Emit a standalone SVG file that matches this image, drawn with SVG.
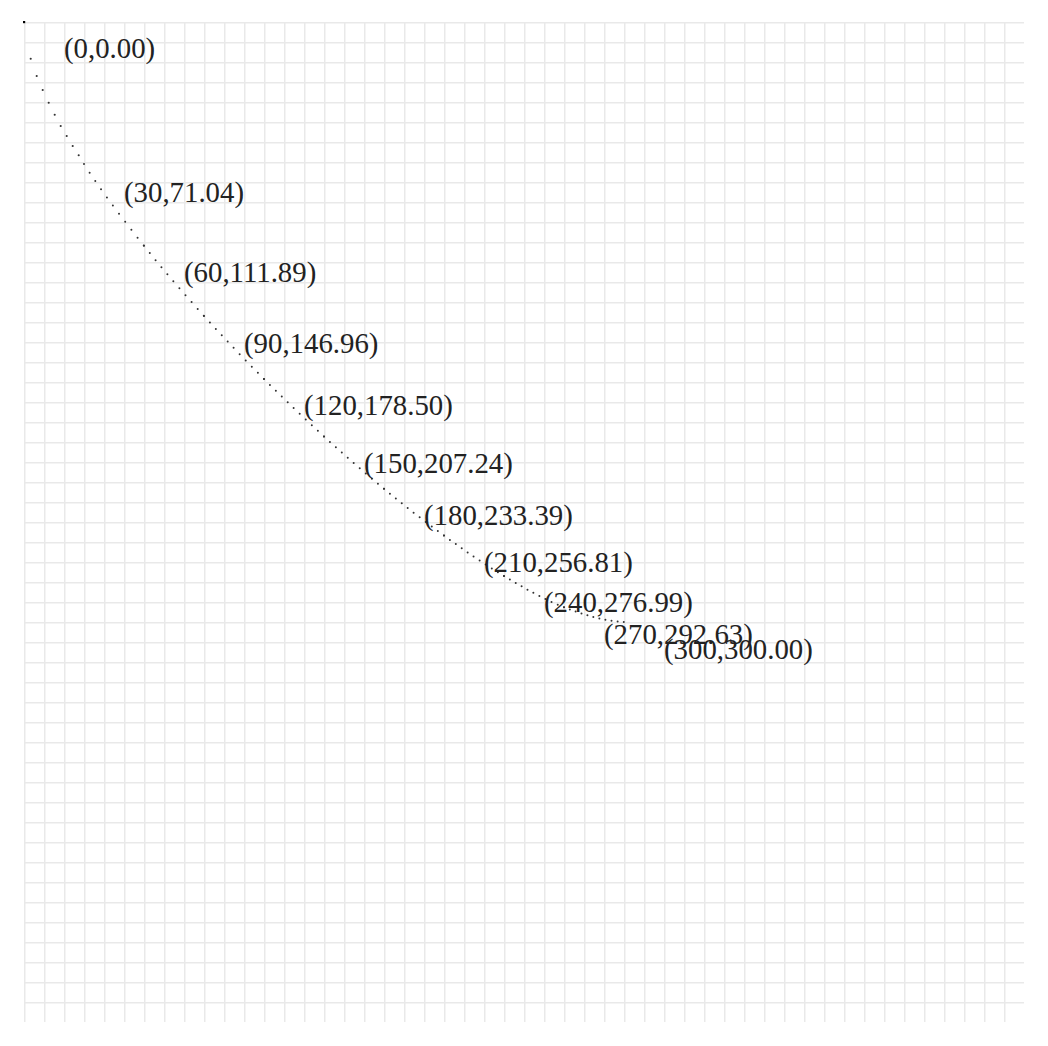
<svg xmlns="http://www.w3.org/2000/svg" width="1048" height="1046" viewBox="0 0 1048 1046">
<style>
.lbl{font-family:"Liberation Serif","Times New Roman",serif;font-size:28.8px;fill:#222}
.crv{fill:none;stroke:#333;stroke-width:2;stroke-linecap:round}
</style>
<defs>
<pattern id="grid" x="24" y="22" width="20" height="20" patternUnits="userSpaceOnUse">
<path d="M0 0.75H20M0.75 0V20" stroke="#e9e9e9" stroke-width="1.5" fill="none"/>
</pattern>
</defs>
<rect width="1048" height="1046" fill="#fff"/>
<rect id="grid-area" x="24" y="22" width="1000" height="1000" fill="url(#grid)"/>
<g id="curve">
<rect x="23" y="21" width="2.2" height="2.2" fill="#000"/>
<g fill="#333">
<circle cx="30.7" cy="58.7" r="1.05"/>
<circle cx="36.7" cy="76" r="1.05"/>
<circle cx="42.7" cy="90" r="1.05"/>
<circle cx="48.7" cy="102.7" r="1.05"/>
<circle cx="54.7" cy="114.7" r="1.05"/>
<circle cx="60.7" cy="126" r="1.05"/>
<circle cx="66.7" cy="136" r="1.05"/>
<circle cx="72.7" cy="146" r="1.05"/>
<circle cx="78.7" cy="155.3" r="1.05"/>
</g>
<path class="crv" stroke-dasharray="0 10.1" d="M84 164.08C104 195.08 124 220.48 144 245.78"/>
<path class="crv" stroke-dasharray="0 9.2" d="M144 245.78C164 271.08 184 293.72 204 315.92"/>
<path class="crv" stroke-dasharray="0 8.7" d="M204 315.92C224 338.12 244 358.9 264 379"/>
<path class="crv" stroke-dasharray="0 8.3" d="M264 379C284 399.1 304 418.18 324 436.48"/>
<path class="crv" stroke-dasharray="0 7.96" d="M324 436.48C344 454.78 364 472.26 384 488.78"/>
<path class="crv" stroke-dasharray="0 7.6" d="M384 488.78C404 505.3 424 521.08 444 535.62"/>
<path class="crv" stroke-dasharray="0 7.23" d="M444 535.62C464 550.16 484 564.04 504 575.98"/>
<path class="crv" stroke-dasharray="0 6.77" d="M504 575.98C524 587.92 544 599.6 564 607.26"/>
<path class="crv" stroke-dasharray="0 6.18" d="M564 607.26C584 614.92 604 621 624 622"/>
</g>
<g id="labels">
<text class="lbl" x="64" y="58">(0,0.00)</text>
<text class="lbl" x="124" y="202">(30,71.04)</text>
<text class="lbl" x="184" y="282">(60,111.89)</text>
<text class="lbl" x="244" y="353">(90,146.96)</text>
<text class="lbl" x="304" y="414.5">(120,178.50)</text>
<text class="lbl" x="364" y="473">(150,207.24)</text>
<text class="lbl" x="424" y="525">(180,233.39)</text>
<text class="lbl" x="484" y="572">(210,256.81)</text>
<text class="lbl" x="544" y="612">(240,276.99)</text>
<text class="lbl" x="604" y="643.5">(270,292.63)</text>
<text class="lbl" x="664" y="659">(300,300.00)</text>
</g>
</svg>
